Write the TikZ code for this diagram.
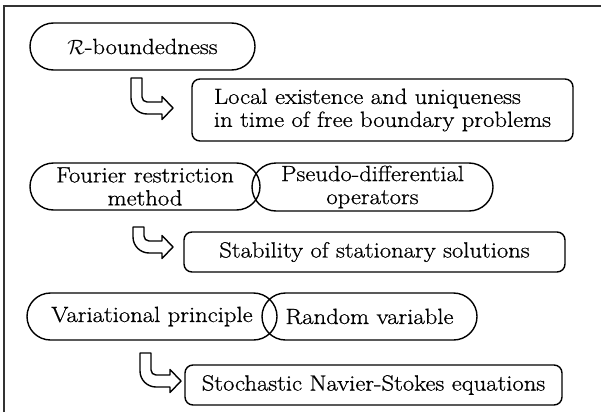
\documentclass[tikz,border=0pt]{standalone}
\usepackage{fontspec}
\setmainfont{Latin Modern Roman}[FakeStretch=1.12, FakeBold=0.8]
\usetikzlibrary{shapes.misc}
\tikzset{
  txt/.style={font=\fontsize{22}{23}\selectfont},
  stad/.style={rounded rectangle, draw, line width=1.4pt, inner sep=0pt, minimum height=47pt, align=center, txt},
  rbox/.style={rectangle, rounded corners=8pt, draw, line width=1.4pt, inner sep=0pt, minimum height=40pt, align=center, txt},
  barrow/.style={draw, line width=1.4pt, line join=round},
  frame/.style={line width=1.6pt, black!80}
}
\begin{document}
\begin{tikzpicture}[x=1pt,y=-1pt]
\useasboundingbox (0,0) rectangle (601,412);
\draw[frame] (4,412) -- (4,6) -- (601,6);

% row 1
\node[stad, minimum width=225pt] (rb) at (142.5,46.5) {$\mathcal{R}$-boundedness};
\node[rbox, minimum width=381pt, minimum height=62pt, align=left] (loc) at (382.5,110)
  {Local existence and uniqueness\\in time of free boundary problems};
\draw[barrow] (131,78) -- (131,98) .. controls (131,106.8) and (138.2,114) .. (147,114)
  -- (162,114) -- (162,119.5) -- (173,108) -- (162,96.5) -- (162,102) -- (147,102)
  .. controls (144.2,102) and (142,99.8) .. (142,97) -- (142,78) -- cycle;

% row 2
\node[stad, minimum width=230pt] (fou) at (145,186.5) {Fourier restriction\\method};
\node[stad, minimum width=241pt, minimum height=48pt] (pse) at (372.5,187) {Pseudo-differential\\operators};
\node[rbox, minimum width=381pt] (sta) at (374.5,252) {Stability of stationary solutions};
\draw[barrow] (133,227) -- (133,237) .. controls (133,245.8) and (140.2,253) .. (149,253)
  -- (162,253) -- (162,258.5) -- (173,247) -- (162,235.5) -- (162,241) -- (149,241)
  .. controls (146.2,241) and (144,238.8) .. (144,236) -- (144,227) -- cycle;

% row 3
\node[stad, minimum width=250pt] (var) at (152,316.5) {Variational principle};
\node[stad, minimum width=215pt] (ran) at (369.5,316.5) {Random variable};
\node[rbox, minimum width=377pt] (sto) at (373.5,385) {Stochastic Navier-Stokes equations};
\draw[barrow] (140,353) -- (140,371) .. controls (140,379.8) and (147.2,387) .. (156,387)
  -- (170,387) -- (170,392.5) -- (181,381) -- (170,369.5) -- (170,375) -- (156,375)
  .. controls (153.2,375) and (151,372.8) .. (151,370) -- (151,353) -- cycle;
\end{tikzpicture}
\end{document}
